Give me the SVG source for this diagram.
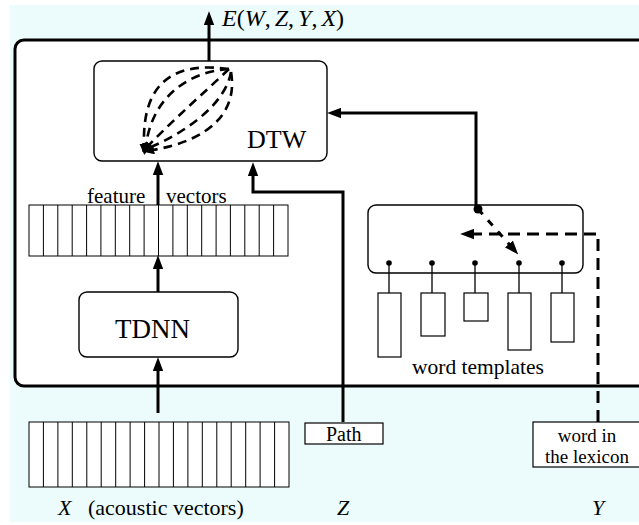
<svg xmlns="http://www.w3.org/2000/svg" width="639" height="525" viewBox="0 0 639 525">
<style>
  .bx{fill:#fff;stroke:#000;stroke-width:1.4}
  .grid{fill:none;stroke:#000;stroke-width:1}
  .w{fill:none;stroke:#000;stroke-width:3}
  .d{fill:none;stroke:#000;stroke-width:3;stroke-dasharray:12 7}
  .dc{fill:none;stroke:#000;stroke-width:2.6;stroke-dasharray:9 6}
  .thin{fill:none;stroke:#000;stroke-width:1.3}
  text{font-family:"Liberation Serif","Times New Roman",serif;fill:#000}
  .it{font-style:italic}
</style>
<defs>
  <marker id="ah" markerUnits="userSpaceOnUse" markerWidth="14" markerHeight="11" refX="1" refY="4.5" orient="auto" viewBox="0 0 12 9">
    <path d="M0,0 L12,4.5 L0,9 z" fill="#000"/>
  </marker>
  <marker id="sh" markerUnits="userSpaceOnUse" markerWidth="11" markerHeight="9" refX="1" refY="4" orient="auto" viewBox="0 0 10 8">
    <path d="M0,0 L10,4 L0,8 z" fill="#000"/>
  </marker>
</defs>
<rect x="10" y="5" width="629" height="517" fill="#ecfcfc"/>
<rect x="15" y="40" width="700" height="346" rx="9" fill="#fff" stroke="#000" stroke-width="3"/>

<g id="dtw">
  <rect class="bx" x="94" y="61" width="233" height="100" rx="8"/>
  <text x="247" y="148" font-size="26">DTW</text>
  <path class="dc" marker-end="url(#sh)" d="M229,69 C178,62 142,78 144,145"/>
  <path class="dc" marker-end="url(#sh)" d="M229,69 C185,72 152,100 146,145"/>
  <path class="dc" marker-end="url(#sh)" d="M229,69 C205,92 175,118 149,145"/>
  <path class="dc" marker-end="url(#sh)" d="M231,72 C226,102 190,130 151,147"/>
  <path class="dc" marker-end="url(#sh)" d="M231,72 C238,112 210,140 153,150"/>
</g>

<g id="feature-vectors">
  <rect class="bx" x="29" y="205" width="259" height="51" style="stroke-width:1"/>
  <path class="grid" d="M43.4,205V256M57.8,205V256M72.2,205V256M86.6,205V256M100.9,205V256M115.3,205V256M129.7,205V256M144.1,205V256M158.5,205V256M172.9,205V256M187.3,205V256M201.7,205V256M216.1,205V256M230.4,205V256M244.8,205V256M259.2,205V256M273.6,205V256"/>
  <text x="87" y="203" font-size="21">feature</text>
  <text x="166" y="203" font-size="21">vectors</text>
</g>

<g id="tdnn">
  <rect class="bx" x="79" y="292" width="159" height="65" rx="8"/>
  <text x="115" y="338" font-size="27">TDNN</text>
</g>

<g id="acoustic-vectors">
  <rect class="bx" x="29" y="422" width="260" height="65" style="stroke-width:1"/>
  <path class="grid" d="M43.4,422V487M57.9,422V487M72.3,422V487M86.8,422V487M101.2,422V487M115.7,422V487M130.1,422V487M144.6,422V487M159,422V487M173.4,422V487M187.9,422V487M202.3,422V487M216.8,422V487M231.2,422V487M245.7,422V487M260.1,422V487M274.6,422V487"/>
  <text x="58" y="515" font-size="22"><tspan class="it">X</tspan><tspan x="88">(acoustic vectors)</tspan></text>
</g>

<g id="path-box">
  <rect class="bx" x="305" y="423" width="78" height="21" style="stroke-width:1.2"/>
  <text x="326" y="441" font-size="20">Path</text>
  <text class="it" x="337" y="515" font-size="22">Z</text>
</g>

<g id="word-templates">
  <rect class="bx" x="368" y="205" width="215" height="68" rx="8"/>
  <g fill="#000">
    <circle cx="389" cy="263" r="2.8"/><circle cx="432" cy="263" r="2.8"/><circle cx="475" cy="263" r="2.8"/><circle cx="519" cy="263" r="2.8"/><circle cx="562" cy="263" r="2.8"/>
    <circle cx="478" cy="209" r="4.5"/>
  </g>
  <path class="thin" d="M389,263V293M432,263V293M475,263V293M519,263V293M562,263V293"/>
  <rect class="bx" x="378" y="293" width="23" height="64" style="stroke-width:1.2"/>
  <rect class="bx" x="421" y="293" width="24" height="43" style="stroke-width:1.2"/>
  <rect class="bx" x="464" y="293" width="24" height="28" style="stroke-width:1.2"/>
  <rect class="bx" x="508" y="293" width="23" height="57" style="stroke-width:1.2"/>
  <rect class="bx" x="551" y="293" width="23" height="49" style="stroke-width:1.2"/>
  <text x="412" y="374" font-size="21.5">word templates</text>
</g>

<g id="lexicon">
  <rect class="bx" x="533" y="422" width="120" height="45" style="stroke-width:1.2"/>
  <text x="587" y="442" font-size="19" text-anchor="middle">word in</text>
  <text x="587" y="463" font-size="19" text-anchor="middle">the lexicon</text>
  <text class="it" x="592" y="515" font-size="22">Y</text>
</g>

<g id="output">
  <text x="222" y="26" font-size="24"><tspan class="it">E</tspan>(<tspan class="it">W</tspan>,<tspan class="it" dx="4">Z</tspan>,<tspan class="it" dx="4">Y</tspan>,<tspan class="it" dx="4">X</tspan>)</text>
</g>

<g id="connectors">
  <path class="w" marker-end="url(#ah)" d="M209,61V24"/>
  <path class="w" marker-end="url(#ah)" d="M158,292V268"/>
  <path class="w" marker-end="url(#ah)" d="M158,205V174"/>
  <path class="w" marker-end="url(#ah)" d="M158,413V370"/>
  <path class="w" marker-end="url(#ah)" d="M343,422V192H253V175"/>
  <path class="w" marker-end="url(#ah)" d="M476,209V113H340"/>
  <path class="d" marker-end="url(#ah)" d="M598,422V234H473"/>
  <path class="d" style="stroke-dasharray:7 8" marker-end="url(#ah)" d="M478,209L509.7,244.8"/>
</g>
</svg>
